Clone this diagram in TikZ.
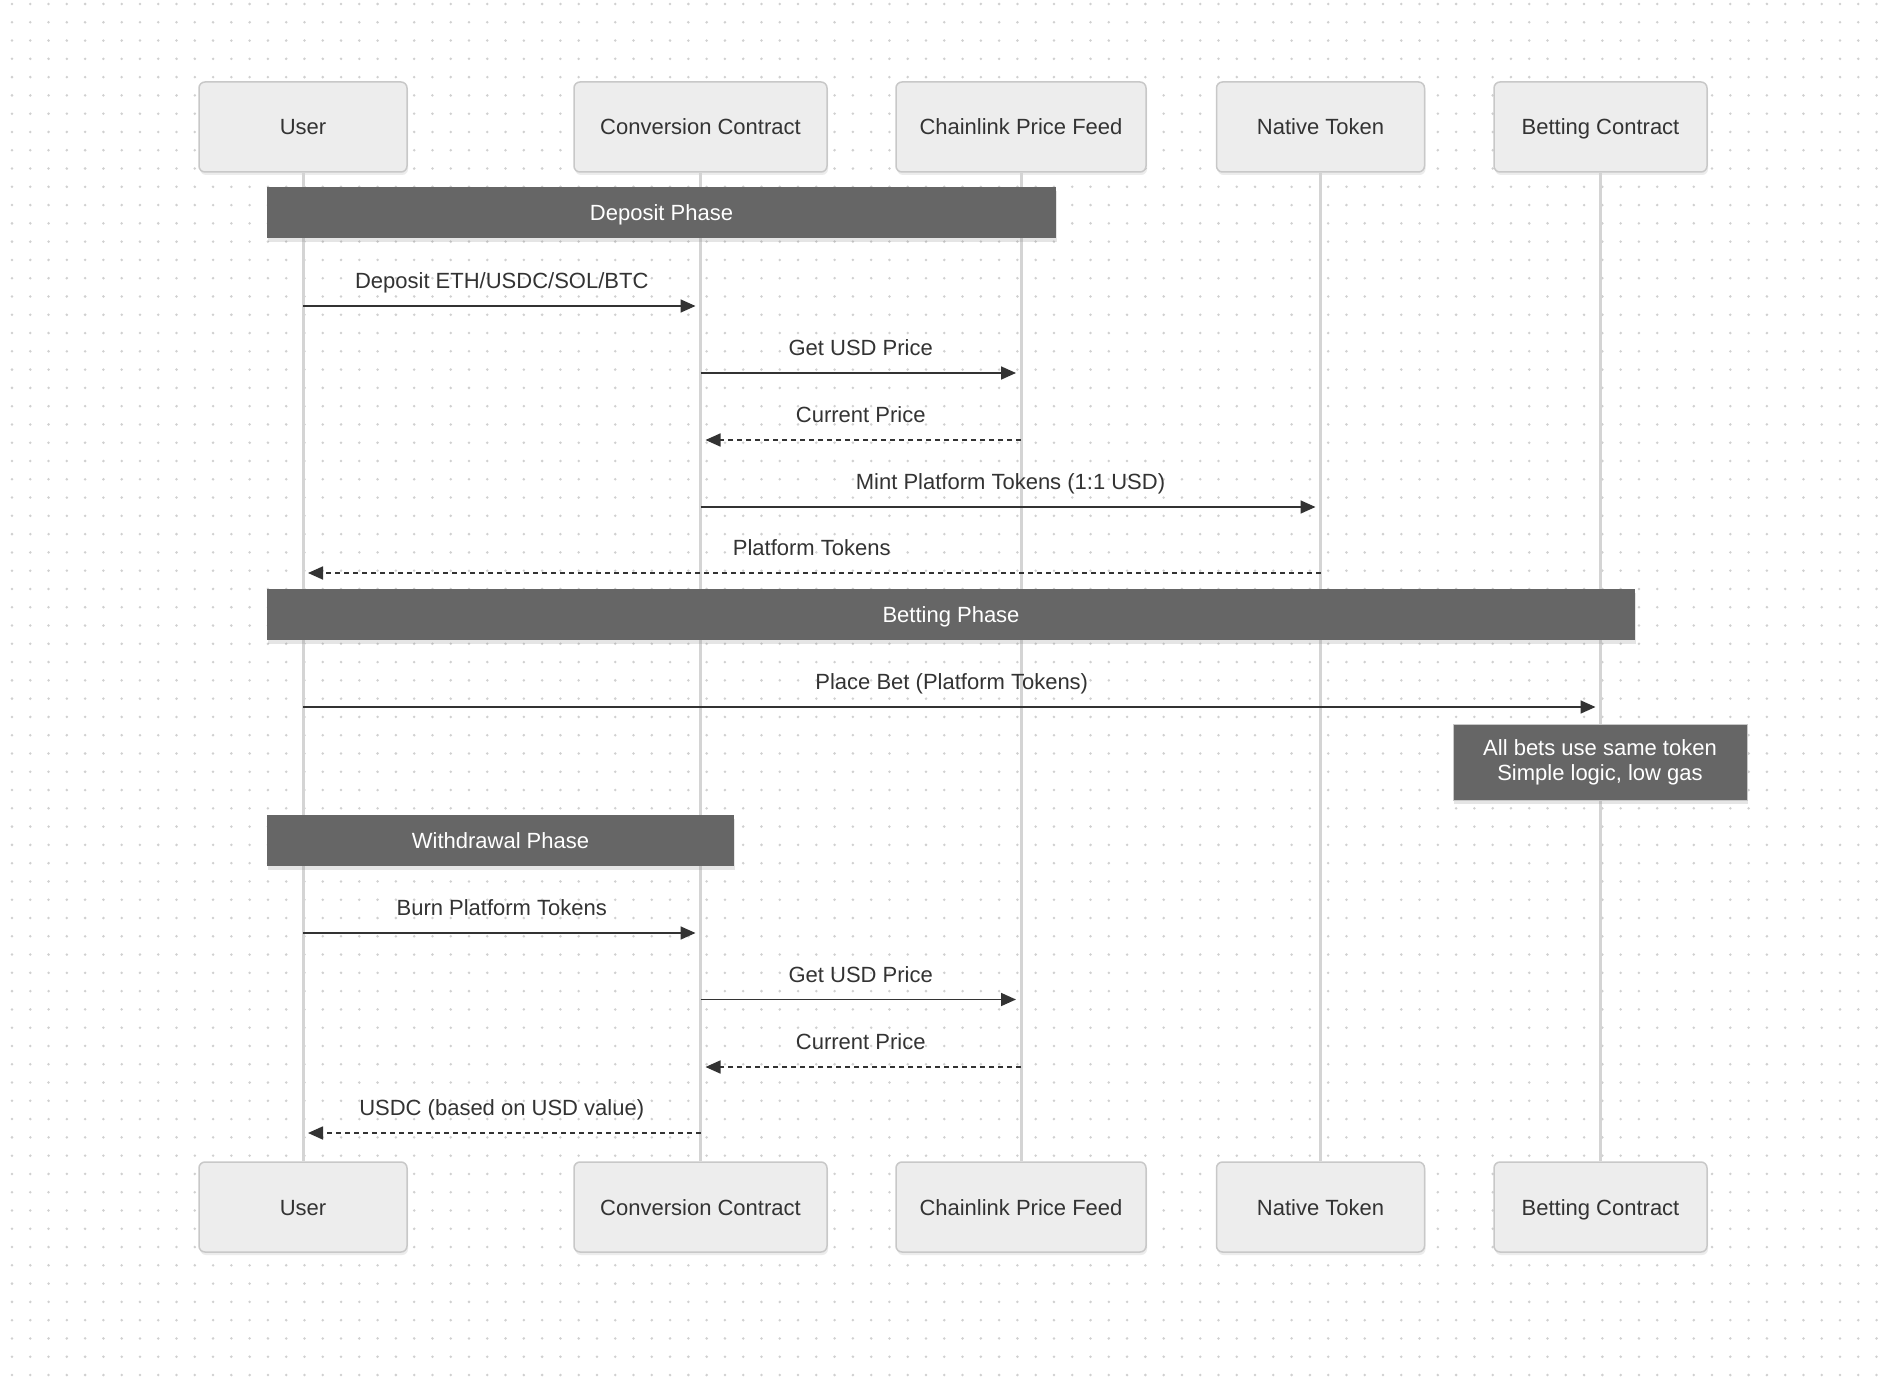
\documentclass[tikz,border=0pt]{standalone}
\usepackage{fontspec}
\setmainfont{Liberation Sans}
\usepackage{xcolor}
\usepackage{tikz}
\usetikzlibrary{arrows.meta,shadows}

\definecolor{dotgray}{HTML}{D0D0D0}
\definecolor{boxfill}{HTML}{EDEDED}
\definecolor{boxline}{HTML}{C8C8C8}
\definecolor{lifegray}{HTML}{D4D4D4}
\definecolor{phasegray}{HTML}{666666}
\definecolor{inkgray}{HTML}{333333}

\begin{document}
\begin{tikzpicture}[
    x=1pt, y=-1pt,
    txt/.style={font=\fontsize{22}{25}\selectfont},
    griddot/.style={draw=dotgray, line width=2.8pt, line cap=round, dash pattern=on 0pt off 18.28pt},
    actor/.style={txt, rectangle, rounded corners=6pt, draw=boxline, line width=1.5pt, fill=boxfill, text=inkgray,
        minimum height=90pt, inner xsep=20pt, text height=16pt, text depth=0pt,
        drop shadow={shadow xshift=1pt, shadow yshift=-3pt, opacity=.15}},
    lifeline/.style={draw=lifegray, line width=3pt},
    phase/.style={txt, rectangle, fill=phasegray, text=white, minimum height=51pt, inner sep=0pt,
        text height=16pt, text depth=0pt, drop shadow={shadow xshift=1pt, shadow yshift=-4pt, opacity=.2}},
    note/.style={txt, rectangle, fill=phasegray, draw=boxline, line width=1pt, text=white, align=center,
        minimum width=294pt, minimum height=76pt, drop shadow={shadow xshift=1pt, shadow yshift=-4pt, opacity=.2}},
    msg/.style={draw=inkgray, line width=1.7pt, -{Triangle[length=15pt, width=13pt]}, shorten >=5pt},
    reply/.style={msg, dash pattern=on 5pt off 4pt},
    lbl/.style={txt, text=inkgray, text height=16pt, text depth=5pt, inner sep=0pt, yshift=23pt}
]
\fill[white] (0,0) rectangle (1888,1378);
\useasboundingbox (0,0) rectangle (1888,1378);
\foreach \gy in {4,22.28,...,1378}
    \draw[griddot] (12,\gy) -- (1888,\gy);

\foreach \n/\x/\w/\t in {user/303/208/User, conv/700.5/253/Conversion Contract,
        feed/1021/250/Chainlink Price Feed, native/1320.5/208/Native Token, bet/1600.5/213/Betting Contract} {
    \node[actor, minimum width=\w pt] (\n) at (\x,127) {\t};
    \node[actor, minimum width=\w pt] (\n-b) at (\x,1207) {\t};
    \draw[lifeline] (\n.south) -- (\n-b.north);
}

\node[phase, minimum width=789pt] (deposit) at (661.5,212.5) {Deposit Phase};
\node[phase, minimum width=1368pt] (betting) at (951,614.5) {Betting Phase};
\node[phase, minimum width=467pt] (withdraw) at (500.5,840) {Withdrawal Phase};
\node[note] (gasnote) at (1600,762) {All bets use same token\\Simple logic, low gas};

\coordinate (m1) at (0,306);
\coordinate (m2) at (0,373);
\coordinate (m3) at (0,440);
\coordinate (m4) at (0,507);
\coordinate (m5) at (0,573);
\coordinate (m6) at (0,707);
\coordinate (m7) at (0,933);
\coordinate (m8) at (0,999.5);
\coordinate (m9) at (0,1067);
\coordinate (m10) at (0,1133);

\draw[msg] (user |- m1) -- node[lbl] {Deposit ETH/USDC/SOL/BTC} (conv |- m1);
\draw[msg] (conv |- m2) -- node[lbl] {Get USD Price} (feed |- m2);
\draw[reply] (feed |- m3) -- node[lbl] {Current Price} (conv |- m3);
\draw[msg] (conv |- m4) -- node[lbl] {Mint Platform Tokens (1:1 USD)} (native |- m4);
\draw[reply] (native |- m5) -- node[lbl] {Platform Tokens} (user |- m5);
\draw[msg] (user |- m6) -- node[lbl] {Place Bet (Platform Tokens)} (bet |- m6);
\draw[msg] (user |- m7) -- node[lbl] {Burn Platform Tokens} (conv |- m7);
\draw[msg] (conv |- m8) -- node[lbl] {Get USD Price} (feed |- m8);
\draw[reply] (feed |- m9) -- node[lbl] {Current Price} (conv |- m9);
\draw[reply] (conv |- m10) -- node[lbl] {USDC (based on USD value)} (user |- m10);
\end{tikzpicture}
\end{document}
